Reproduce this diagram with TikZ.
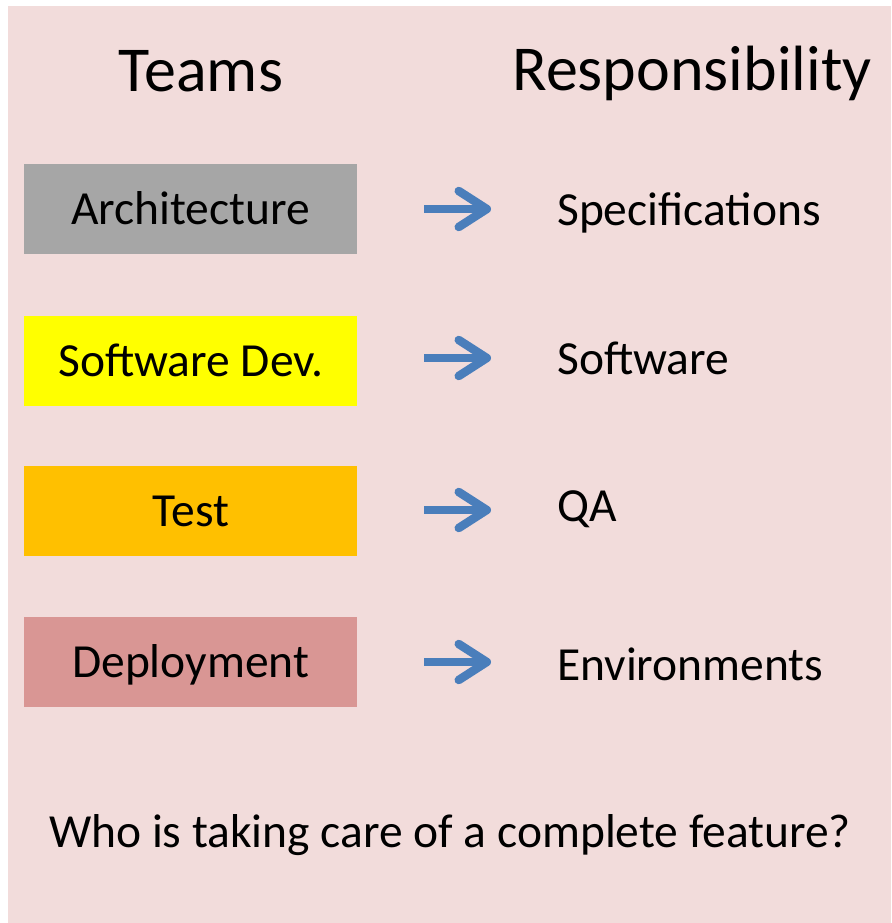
\documentclass[tikz,border=0pt]{standalone}
\usepackage{fontspec}
\setmainfont{Carlito}
\usetikzlibrary{arrows.meta}
\definecolor{bgpink}{HTML}{F2DCDB}
\definecolor{boxgray}{HTML}{A6A6A6}
\definecolor{boxyellow}{HTML}{FFFF00}
\definecolor{boxorange}{HTML}{FFC000}
\definecolor{boxrose}{HTML}{D99694}
\definecolor{arrblue}{HTML}{4A7EBB}
\begin{document}
\begin{tikzpicture}[x=1pt,y=-1pt,
  team/.style={minimum width=333pt,minimum height=90pt,inner sep=0pt,anchor=north west,
    text height=30pt,text depth=0pt,font=\fontsize{47.5}{57}\selectfont},
  resp/.style={anchor=base west,inner sep=0pt,font=\fontsize{47.5}{57}\selectfont},
  head/.style={anchor=base,inner sep=0pt,font=\fontsize{64}{76}\selectfont},
  arr/.style={draw=arrblue,line width=8.5pt,
    -{Straight Barb[length=28pt,width=36pt,line width=8.5pt,round]}}]
\useasboundingbox (0,0) rectangle (891,923);
\fill[white] (0,0) rectangle (891,923);
\fill[bgpink] (8,6) rectangle (891,923);
% headers
\node[head] (hteams) at (201,92) {Teams};
\node[head] (hresp) at (692,91) {Responsibility};
% team boxes
\node[team,fill=boxgray] (arch) at (24,164) {Architecture};
\node[team,fill=boxyellow] (dev) at (24,316) {Software Dev.};
\node[team,fill=boxorange] (test) at (24,466) {Test};
\node[team,fill=boxrose] (dep) at (24,617) {Deployment};
% responsibilities
\node[resp] (spec) at (557,225) {Specifications};
\node[resp] (soft) at (557,374) {Software};
\node[resp] (qa) at (557,521) {QA};
\node[resp] (env) at (557,680) {Environments};
% arrows
\coordinate (a1s) at (424,209); \coordinate (a1e) at (491,209);
\coordinate (a2s) at (424,358); \coordinate (a2e) at (491,358);
\coordinate (a3s) at (424,510); \coordinate (a3e) at (491,510);
\coordinate (a4s) at (424,662); \coordinate (a4e) at (491,662);
\draw[arr] (a1s) -- (a1e);
\draw[arr] (a2s) -- (a2e);
\draw[arr] (a3s) -- (a3e);
\draw[arr] (a4s) -- (a4e);
% question
\node[anchor=base,inner sep=0pt,font=\fontsize{47.5}{57}\selectfont] (q) at (450,847) {Who is taking care of a complete feature?};
\end{tikzpicture}
\end{document}
